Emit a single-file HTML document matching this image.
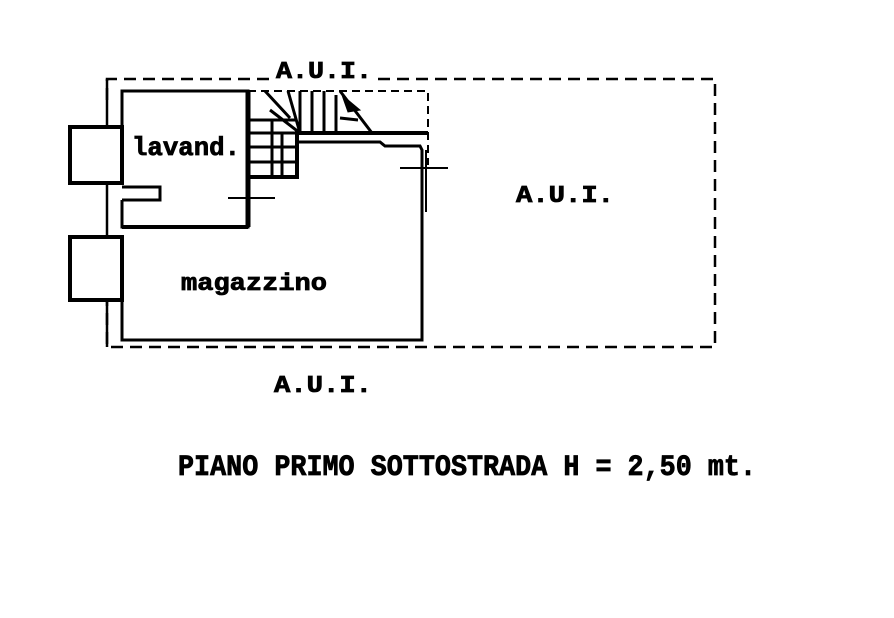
<!DOCTYPE html>
<html><head><style>html,body{margin:0;padding:0;background:#fff;width:894px;height:618px;overflow:hidden}</style></head>
<body>
<svg width="894" height="618" viewBox="0 0 894 618" xmlns="http://www.w3.org/2000/svg">
<g fill="none" stroke="#000">
<path d="M107,100 V79 H270 M378,79 H715 V347 H107 V300" stroke-width="2.5" stroke-dasharray="12,7"/>
<line x1="107" y1="79" x2="107" y2="125" stroke-width="2.5"/>
<line x1="107" y1="300" x2="107" y2="347" stroke-width="2.5"/>
<line x1="107" y1="183" x2="107" y2="235" stroke-width="2.5"/>
<path d="M248,91 H428 V165" stroke-width="2" stroke-dasharray="8,5"/>
<path d="M122,235 V340 H422 V150 L420,146 H385 L380,142 H297" stroke-width="3"/>
<path d="M122,183 V91 H248 V227 H122 V200" stroke-width="3"/>
<line x1="248" y1="91" x2="248" y2="227" stroke-width="5"/>
<line x1="122" y1="227" x2="248" y2="227" stroke-width="4"/>
<path d="M122,187 H160 V200 H122" stroke-width="3"/>
<rect x="70" y="127" width="52" height="56" stroke-width="4"/>
<rect x="70" y="237" width="52" height="63" stroke-width="4"/>
<path d="M248,177 H297 V133 H428" stroke-width="4"/>
<path d="M250,120 H297 M250,133 H297 M250,147 H297 M250,162 H297 M272,120 V177 M282,133 V177" stroke-width="3"/>
<path d="M265,91 L290,118 M288,91 L300,133 M270,110 L300,133" stroke-width="3"/>
<path d="M300,91 V133 M312,91 V133 M324,91 V133 M336,95 V133" stroke-width="3"/>
<path d="M340,91 L372,133 M340,118 L358,120" stroke-width="3"/>
<path d="M342,95 L360,110 L348,112 Z" fill="#000" stroke-width="1"/>
<path d="M228,198 H275 M400,168 H448 M426,150 V212" stroke-width="2"/>
</g>
<g font-family="'Liberation Mono',monospace" font-weight="bold" fill="#000" stroke="#000" stroke-width="0.8">
<text x="276" y="78" font-size="24" textLength="96" lengthAdjust="spacingAndGlyphs">A.U.I.</text>
<text x="516" y="202" font-size="24" textLength="98" lengthAdjust="spacingAndGlyphs">A.U.I.</text>
<text x="274" y="392" font-size="24" textLength="98" lengthAdjust="spacingAndGlyphs">A.U.I.</text>
<text x="132" y="155" font-size="26" textLength="108" lengthAdjust="spacingAndGlyphs">lavand.</text>
<text x="181" y="290" font-size="24" textLength="146" lengthAdjust="spacingAndGlyphs">magazzino</text>
<text x="178" y="475" font-size="30" textLength="578" lengthAdjust="spacingAndGlyphs">PIANO PRIMO SOTTOSTRADA H = 2,50 mt.</text>
</g>
</svg>
</body></html>
